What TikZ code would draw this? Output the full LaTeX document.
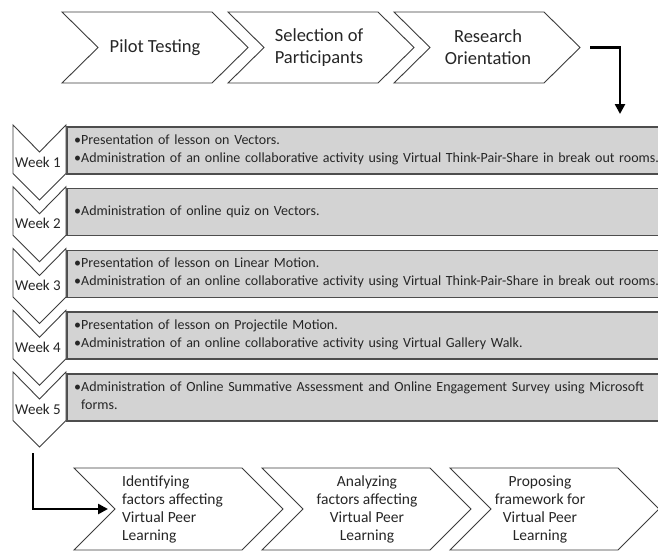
\documentclass[tikz,border=0pt]{standalone}
\usepackage{fontspec}
\setmainfont{Carlito}
\usetikzlibrary{arrows.meta}
\definecolor{boxfill}{HTML}{D3D3D3}
\definecolor{boxline}{HTML}{4D4D4D}
\definecolor{chevline}{HTML}{3C3C3C}
\definecolor{txt}{HTML}{262626}
\begin{document}
\begin{tikzpicture}[x=1pt,y=-1pt,
  chev/.style={draw=chevline, fill=white, line width=0.9pt, line join=miter},
  weekbox/.style={draw=boxline, fill=boxfill, line width=1.5pt},
  toptext/.style={font=\fontsize{18.5}{22}\selectfont, text=txt, align=center, inner sep=0pt},
  bottext/.style={font=\fontsize{15.5}{18}\selectfont, text=txt, inner sep=0pt},
  weektext/.style={font=\fontsize{14}{18}\selectfont, text=txt, align=left, anchor=west, inner sep=0pt, text width=600pt},
  weeklabel/.style={font=\fontsize{15}{18}\selectfont, text=txt, inner sep=0pt},
  flow/.style={line width=2.6pt, draw=black, -{Triangle[length=10pt,width=10pt]}}
]
\useasboundingbox (0,0) rectangle (658,552);
\clip (0,0) rectangle (658,552);
\fill[white] (0,0) rectangle (658,552);

% right-pointing chevron: #1 x0, #2 y0, #3 width, #4 height, #5 depth
\newcommand\rchevron[5]{%
  \path[chev] (#1,#2) -- ({#1+#3-#5},#2) -- ({#1+#3},{#2+#4/2}) -- ({#1+#3-#5},{#2+#4})
    -- (#1,{#2+#4}) -- ({#1+#5},{#2+#4/2}) -- cycle;}
% down-pointing week chevron: #1 y0
\newcommand\dchevron[1]{%
  \path[chev] (13,#1) -- (39.5,{#1+27}) -- (66,#1) -- (66,{#1+48.5}) -- (39.5,{#1+75})
    -- (13,{#1+48.5}) -- cycle;}

% top row
\rchevron{62}{12}{186}{71}{36}
\rchevron{228}{12}{186}{71}{36}
\rchevron{394}{12}{186}{71}{36}
\node[toptext] (t1) at (155,47.5) {Pilot Testing};
\node[toptext] (t2) at (319,47.5) {Selection of\\Participants};
\node[toptext] (t3) at (488,47.5) {Research\\Orientation};
\coordinate (t3tip) at (580,47.5);

% week boxes
\foreach \i/\y in {1/125,2/186.75,3/248.5,4/310.25,5/372}{
  \node[weekbox, anchor=north west, minimum width=600pt, minimum height=47pt] (b\i) at (66,{\y+1}) {};
}
\foreach \i/\y in {1/125,2/186.75,3/248.5,4/310.25,5/372}{
  \dchevron{\y}
  \node[weeklabel] (w\i) at (38,{\y+37}) {Week \i};
}

\node[weektext] (x1) at (74,{125+24.5}) {•Presentation of lesson on Vectors.\\•Administration of an online collaborative activity using Virtual Think-Pair-Share in break out rooms.};
\node[weektext] (x2) at (74,{186.75+25}) {•Administration of online quiz on Vectors.};
\node[weektext] (x3) at (74,{248.5+24.5}) {•Presentation of lesson on Linear Motion.\\•Administration of an online collaborative activity using Virtual Think-Pair-Share in break out rooms.};
\node[weektext] (x4) at (74,{310.25+24.5}) {•Presentation of lesson on Projectile Motion.\\•Administration of an online collaborative activity using Virtual Gallery Walk.};
\node[weektext] (x5) at (74,{372+24}) {•Administration of Online Summative Assessment and Online Engagement Survey using Microsoft\\\phantom{•}forms.};

% bottom row
\rchevron{74}{468}{209}{82}{41}
\rchevron{262}{468}{209}{82}{41}
\rchevron{450}{468}{209}{82}{41}
\node[bottext, align=left, anchor=west] (s1) at (122,509) {Identifying\\factors affecting\\Virtual Peer\\Learning};
\node[bottext, align=center] (s2) at (367,509) {Analyzing\\factors affecting\\Virtual Peer\\Learning};
\node[bottext, align=center] (s3) at (540,509) {Proposing\\framework for\\Virtual Peer\\Learning};

% connectors
\coordinate (a1start) at ([xshift=10pt]t3tip);
\coordinate (a1end) at (620,114);
\draw[flow] (a1start) -| (a1end);
\coordinate (a2start) at (33,453);
\coordinate (a2end) at (108,509);
\draw[flow] (a2start) |- (a2end);
\end{tikzpicture}
\end{document}
